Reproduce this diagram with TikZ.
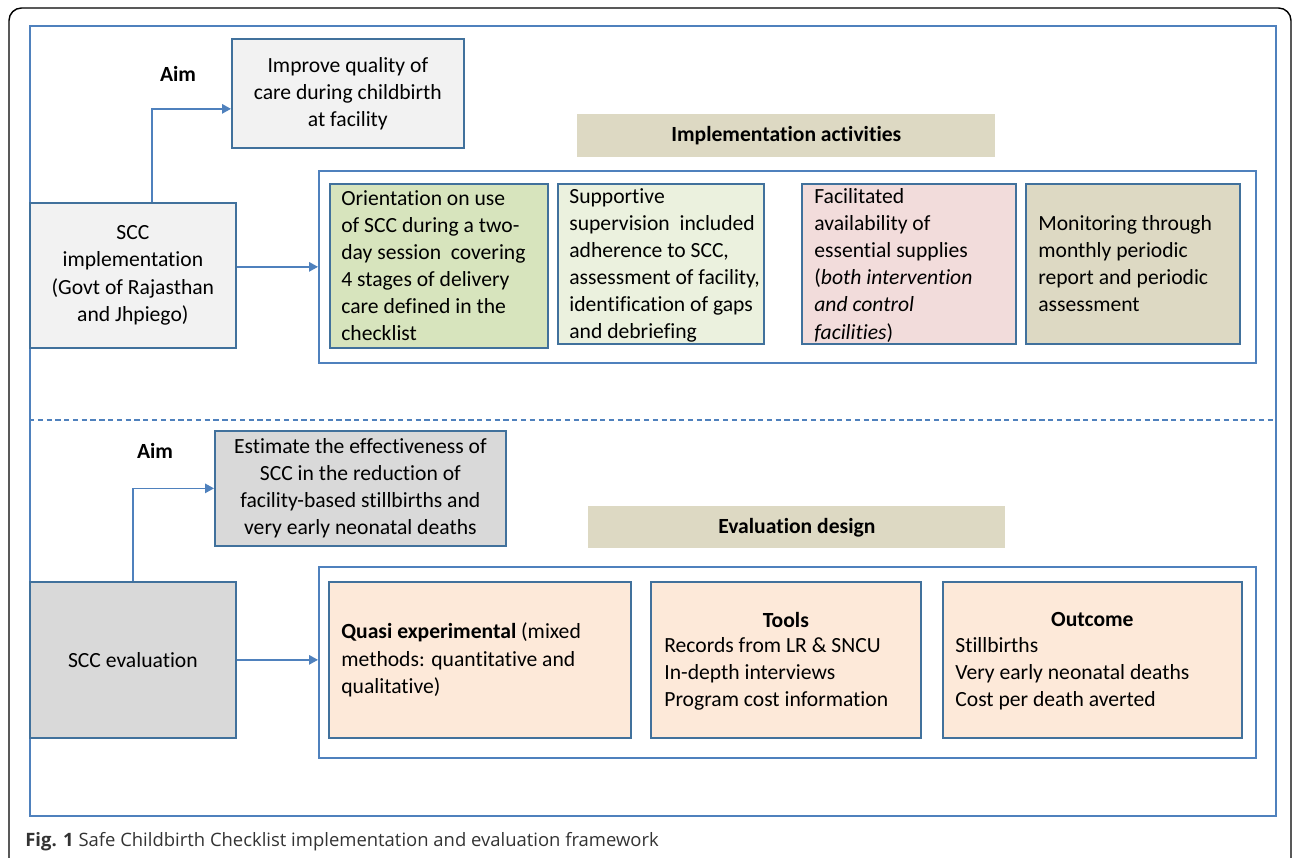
\documentclass[tikz,border=0pt]{standalone}
\usepackage{fontspec}
\setmainfont[Ligatures=NoCommon]{Carlito}
\newfontfamily\capfont{Open Sans}
\usepackage{tikz}
\usetikzlibrary{arrows.meta}

\definecolor{lineblue}{HTML}{4F81BD}
\definecolor{boxblue}{HTML}{41719C}
\definecolor{grayA}{HTML}{F2F2F2}
\definecolor{grayB}{HTML}{D9D9D9}
\definecolor{tan}{HTML}{DDD9C3}
\definecolor{greenA}{HTML}{D7E4BD}
\definecolor{greenB}{HTML}{EBF1DE}
\definecolor{pinkA}{HTML}{F2DCDB}
\definecolor{peach}{HTML}{FDE9D9}
\definecolor{capgray}{HTML}{333333}

\tikzset{
    box/.style={draw=boxblue, line width=1pt, anchor=north west, inner sep=0pt},
    frame/.style={draw=lineblue, line width=1pt, anchor=north west, inner sep=0pt},
    header/.style={fill=tan, anchor=north west, inner sep=0pt, font=\bfseries},
    txt/.style={align=left, anchor=west, inner sep=0pt},
    arr/.style={draw=lineblue, line width=0.8pt, -{Triangle[length=1.8mm, width=1.9mm]}}
}

\begin{document}
\fontsize{12.3}{15.4}\selectfont
\begin{tikzpicture}[x=0.02cm, y=-0.02cm]
        \useasboundingbox (0,0) rectangle (1292,858);
        \draw[rounded corners=0.25cm, line width=0.8pt] (9,858) -- (9,8) -- (1291,8) -- (1291,858);
        \node[frame, minimum width=24.92cm, minimum height=15.8cm] (outer) at (29,25) {};
        \draw[lineblue, line width=0.6pt, dash pattern=on 3pt off 2pt] (29,420) -- (1275,420);

        % implementation
        \node[font=\bfseries] (aim1lbl) at (178,74) {Aim};
        \node[box, fill=grayA, minimum width=4.64cm, minimum height=2.18cm, align=center] (aim1) at (231,38) {Improve quality of\\care during childbirth\\at facility};
        \node[box, fill=grayA, minimum width=4.12cm, minimum height=2.9cm, align=center] (impl) at (29,202) {SCC\\implementation\\(Govt of Rajasthan\\and Jhpiego)};
        \node[header, minimum width=8.36cm, minimum height=0.86cm] (actlbl) at (577,114) {Implementation activities};
        \node[frame, fill=white, minimum width=18.74cm, minimum height=3.84cm] (actframe) at (318,170) {};
        \node[box, fill=greenA, minimum width=4.36cm, minimum height=3.28cm] (act1) at (329,183) {};
        \node[box, fill=greenB, minimum width=4.12cm, minimum height=3.2cm] (act2) at (557,183) {};
        \node[box, fill=pinkA, minimum width=4.28cm, minimum height=3.2cm] (act3) at (801,183) {};
        \node[box, fill=tan, minimum width=4.28cm, minimum height=3.2cm] (act4) at (1025,183) {};
        \node[txt] (act1t) at ([xshift=0.24cm]act1.west) {Orientation on use\\of SCC during a two-\\day session\ \ covering\\4 stages of delivery\\care defined in the\\checklist};
        \node[txt] (act2t) at ([xshift=0.24cm, yshift=-0.03cm]act2.west) {Supportive\\supervision\ \ included\\adherence to SCC,\\assessment of facility,\\identification of gaps\\and debriefing};
        \node[txt] (act3t) at ([xshift=0.26cm, yshift=-0.03cm]act3.west) {Facilitated\\availability of\\essential supplies\\(\textit{both intervention}\\\textit{and control}\\\textit{facilities})};
        \node[txt] (act4t) at ([xshift=0.26cm]act4.west) {Monitoring through\\monthly periodic\\report and periodic\\assessment};
        \draw[arr] ([xshift=0.38cm]impl.north) |- ([yshift=-0.31cm]aim1.west);
        \draw[arr] (impl.east |- actframe.west) -- (actframe.west);

        % evaluation
        \node[font=\bfseries] (aim2lbl) at (155,451) {Aim};
        \node[box, fill=grayB, minimum width=5.82cm, minimum height=2.3cm, align=center] (aim2) at (214,430) {Estimate the effectiveness of\\SCC in the reduction of\\facility-based stillbirths and\\very early neonatal deaths};
        \node[box, fill=grayB, minimum width=4.12cm, minimum height=3.12cm] (eval) at (29,581) {SCC evaluation};
        \node[header, minimum width=8.34cm, minimum height=0.84cm] (deslbl) at (588,506) {Evaluation design};
        \node[frame, fill=white, minimum width=18.74cm, minimum height=3.82cm] (desframe) at (318,566) {};
        \node[box, fill=peach, minimum width=6.04cm, minimum height=3.12cm] (des1) at (328,581) {};
        \node[box, fill=peach, minimum width=5.4cm, minimum height=3.12cm] (des2) at (650,581) {};
        \node[box, fill=peach, minimum width=5.98cm, minimum height=3.12cm] (des3) at (942,581) {};
        \node[txt] (des1t) at ([xshift=0.26cm]des1.west) {\textbf{Quasi experimental} (mixed\\methods: quantitative and\\qualitative)};
        \node[font=\bfseries] (des2h) at ([yshift=0.8cm]des2.center) {Tools};
        \node[txt] (des2t) at ([xshift=0.28cm, yshift=-0.28cm]des2.west) {Records from LR \& SNCU\\In-depth interviews\\Program cost information};
        \node[font=\bfseries] (des3h) at ([yshift=0.8cm]des3.center) {Outcome};
        \node[txt] (des3t) at ([xshift=0.26cm, yshift=-0.28cm]des3.west) {Stillbirths\\Very early neonatal deaths\\Cost per death averted};
        \draw[arr] (eval.north) |- (aim2.west);
        \draw[arr] (eval.east) -- (eval.east -| desframe.west);

        \node[anchor=west, inner sep=0pt, text=capgray, font=\capfont\fontsize{10.5}{12}\selectfont] (cap) at (25,842) {\textbf{Fig. 1} Safe Childbirth Checklist implementation and evaluation framework};
    \end{tikzpicture}
\end{document}
